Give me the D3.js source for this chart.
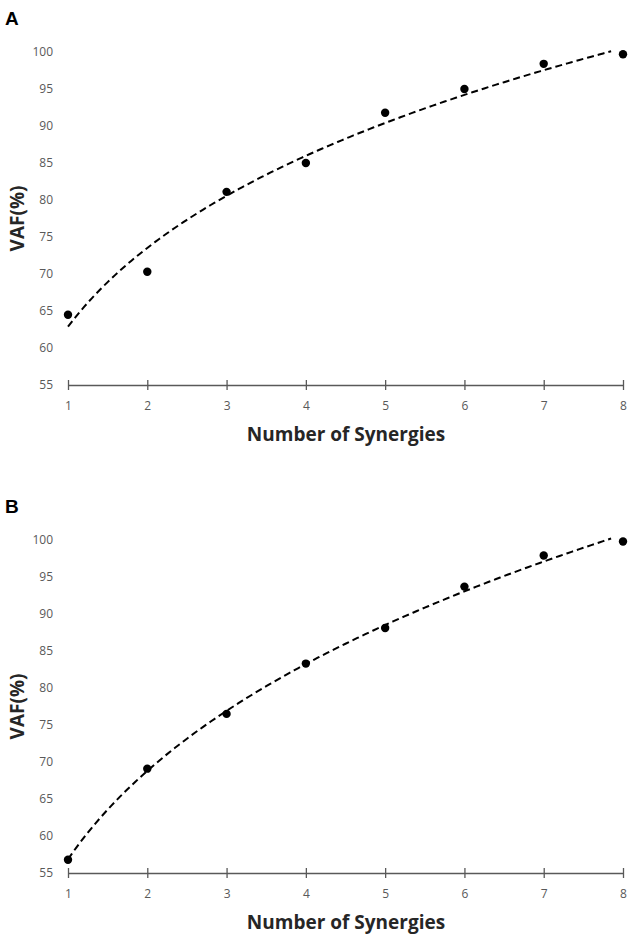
<!DOCTYPE html>
<html lang="en">
<head>
<meta charset="UTF-8">
<title>VAF vs Number of Synergies</title>
<style>
  body { margin: 0; background: #fff; }
  .tick text { font-family: "Open Sans", sans-serif; font-size: 12px; fill: #595959; }
</style>
</head>
<body>
<svg id="chart" width="630" height="941"></svg>
<script src="https://d3js.org/d3.v7.min.js"></script>
<script>
  // number of synergies (x categories)
  const synergies = [1, 2, 3, 4, 5, 6, 7, 8];
  // VAF values
  const vafA = [64.5, 70.3, 81.1, 85.0, 91.8, 95.0, 98.4, 99.7];
  const vafB = [56.8, 69.1, 76.5, 83.3, 88.1, 93.7, 97.9, 99.8];
  const yTicks = [55, 60, 65, 70, 75, 80, 85, 90, 95, 100];
  const panels = [
    { label: "A", values: vafA },
    { label: "B", values: vafB }
  ];

  const svg = d3.select("#chart");
  const x = d3.scaleLinear().domain([1, 8]).range([68, 623]);
  const y = d3.scaleLinear().domain([55, 100]).range([385, 52]);
  const panelOffset = 488;

  // power trendline y = a * x^b (least squares on logs, like Excel)
  function powerFit(xs, ys) {
    const lx = xs.map(Math.log), ly = ys.map(Math.log);
    const mx = d3.mean(lx), my = d3.mean(ly);
    const b = d3.sum(lx, (v, i) => (v - mx) * (ly[i] - my)) / d3.sum(lx, v => (v - mx) * (v - mx));
    const a = Math.exp(my - b * mx);
    return t => a * Math.pow(t, b);
  }

  panels.forEach((p, i) => {
    const g = svg.append("g").attr("transform", `translate(0,${i * panelOffset})`);

    // panel letter
    g.append("text")
      .attr("x", 5).attr("y", 25)
      .attr("font-family", "Liberation Sans, Arial, sans-serif")
      .attr("font-weight", "bold").attr("font-size", 19)
      .attr("fill", "#000")
      .text(p.label);

    // y axis: labels only
    const yAxis = g.append("g")
      .attr("transform", "translate(60,0)")
      .call(d3.axisLeft(y).tickValues(yTicks).tickFormat(d3.format("d")).tickSize(0).tickPadding(7));
    yAxis.select(".domain").remove();

    // x axis with crossing ticks
    const xAxis = g.append("g")
      .attr("transform", `translate(0,${y(55)})`)
      .call(d3.axisBottom(x).tickValues(synergies).tickFormat(d3.format("d"))
        .tickSize(5).tickSizeOuter(0).tickPadding(11));
    xAxis.select(".domain").attr("stroke", "#595959").attr("stroke-width", 1.5);
    xAxis.selectAll(".tick line").attr("y1", -5).attr("stroke", "#595959").attr("stroke-width", 1.3);

    // trendline
    const f = powerFit(synergies, p.values);
    const ts = d3.range(1, 7.86, 0.05);
    g.append("path")
      .datum(ts)
      .attr("fill", "none")
      .attr("stroke", "#000")
      .attr("stroke-width", 2)
      .attr("stroke-dasharray", "7,4")
      .attr("d", d3.line().x(t => x(t)).y(t => y(f(t))));

    // data points
    g.selectAll("circle.pt")
      .data(p.values)
      .join("circle")
      .attr("class", "pt")
      .attr("cx", (d, j) => x(synergies[j]))
      .attr("cy", d => y(d))
      .attr("r", 4.2)
      .attr("fill", "#000");

    // axis titles
    g.append("text")
      .attr("x", 346).attr("y", 441)
      .attr("text-anchor", "middle")
      .attr("font-family", "Open Sans, sans-serif")
      .attr("font-weight", "bold").attr("font-size", 19)
      .attr("fill", "#262626")
      .text("Number of Synergies");

    g.append("text")
      .attr("transform", `translate(24,${(y(55) + y(100)) / 2}) rotate(-90)`)
      .attr("text-anchor", "middle")
      .attr("font-family", "Open Sans, sans-serif")
      .attr("font-weight", "bold").attr("font-size", 19)
      .attr("fill", "#262626")
      .text("VAF(%)");
  });
</script>
</body>
</html>
